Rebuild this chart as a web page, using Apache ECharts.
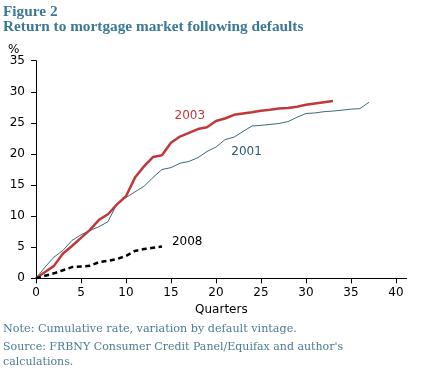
<!DOCTYPE html>
<html>
<head>
<meta charset="utf-8">
<script src="https://cdn.jsdelivr.net/npm/echarts@6/dist/echarts.min.js"></script>
<style>
html,body{margin:0;padding:0;background:#fff;}
#chart{width:426px;height:371px;}
</style>
</head>
<body>
<div id="chart"></div>
<script>
// Data (quarters since default, cumulative %)
const quarters2001 = [0,1,2,3,4,5,6,7,8,9,10,11,12,13,14,15,16,17,18,19,20,21,22,23,24,25,26,27,28,29,30,31,32,33,34,35,36,37];
const values2001 = [0,1.8,3.4,4.5,6.1,7.0,7.7,8.3,9.1,12.0,13.0,13.9,14.8,16.2,17.5,17.8,18.5,18.8,19.4,20.4,21.1,22.3,22.7,23.6,24.5,24.6,24.75,24.9,25.2,25.9,26.5,26.6,26.8,26.9,27.05,27.2,27.3,28.3];
const quarters2003 = [0,1,2,3,4,5,6,7,8,9,10,11,12,13,14,15,16,17,18,19,20,21,22,23,24,25,26,27,28,29,30,31,32,33];
const values2003 = [0,1.0,2.0,4.0,5.2,6.5,7.8,9.4,10.3,11.9,13.2,16.2,18.0,19.5,19.8,21.8,22.8,23.4,24.0,24.3,25.3,25.7,26.3,26.5,26.7,26.95,27.1,27.3,27.4,27.6,27.9,28.1,28.3,28.5];
const quarters2008 = [0,1,2,3,4,5,6,7,8,9,10,11,12,13,14];
const values2008 = [0,0.4,0.8,1.3,1.8,1.9,2.0,2.6,2.8,3.1,3.6,4.4,4.7,4.9,5.1];
const xTicks = [0,5,10,15,20,25,30,35,40];
const seriesNames = ['2001','2003','2008'];
const labelAnchors = {'2001':[23.4,20.3],'2003':[17.1,26.2],'2008':[16.8,5.8]};

const pair = (xs, ys) => xs.map((x,i)=>[x, ys[i]]);
const serifFont = '"Liberation Serif", serif';
const noteFont = '"DejaVu Serif", serif';
const sansFont = '"DejaVu Sans", Verdana, sans-serif';

const chart = echarts.init(document.getElementById('chart'), null, {renderer:'canvas'});
function labelPoint(name, color){
  return {
    symbol:'circle', symbolSize:0, silent:true,
    label:{show:true, position:'inside', formatter:name, color:color, fontFamily:sansFont, fontSize:12},
    data:[{coord:labelAnchors[name]}]
  };
}
function titleItem(text, left, top, font, size, weight, color){
  return {text:text, left:left, top:top, padding:0,
    textStyle:{fontFamily:font, fontWeight:weight, fontSize:size, color:color}};
}
chart.setOption({
  animation:false,
  backgroundColor:'#fff',
  title:[
    titleItem('Figure 2', 3, 5, serifFont, 15.3, 'bold', '#3b7895'),
    titleItem('Return to mortgage market following defaults', 3, 20, serifFont, 15.3, 'bold', '#3b7895'),
    titleItem('%', 8, 44, sansFont, 12, 'normal', '#000'),
    titleItem('Note: Cumulative rate, variation by default vintage.', 3, 324, noteFont, 11.2, 'normal', '#4c7c93'),
    titleItem("Source: FRBNY Consumer Credit Panel/Equifax and author's", 3, 342, noteFont, 11, 'normal', '#4c7c93'),
    titleItem('calculations.', 3, 357, noteFont, 11, 'normal', '#4c7c93')
  ],
  grid:{left:36, right:19.3, top:60.7, bottom:92.7, containLabel:false},
  xAxis:{
    type:'value', min:0, max:41.2,
    name:'Quarters', nameLocation:'middle', nameGap:21,
    nameTextStyle:{fontFamily:sansFont, fontSize:12, color:'#000'},
    axisLine:{show:true, lineStyle:{color:'#000', width:1}},
    axisTick:{show:true, length:5, inside:false, customValues:xTicks, lineStyle:{color:'#000'}},
    axisLabel:{show:true, margin:9, customValues:xTicks, fontFamily:sansFont, fontSize:12, color:'#000'},
    splitLine:{show:false}
  },
  yAxis:{
    type:'value', min:0, max:35, interval:5,
    axisLine:{show:true, lineStyle:{color:'#000', width:1}},
    axisTick:{show:true, length:5, lineStyle:{color:'#000'}},
    axisLabel:{margin:11, fontFamily:sansFont, fontSize:12, color:'#000'},
    splitLine:{show:false}
  },
  series:[
    {name:seriesNames[0], type:'line', data:pair(quarters2001, values2001), symbol:'none', smooth:false,
     lineStyle:{color:'#3c6a7d', width:1}, markPoint:labelPoint('2001','#2f5a6c')},
    {name:seriesNames[1], type:'line', data:pair(quarters2003, values2003), symbol:'none', smooth:false,
     lineStyle:{color:'#c0383a', width:2.5}, markPoint:labelPoint('2003','#c0383a')},
    {name:seriesNames[2], type:'line', data:pair(quarters2008, values2008), symbol:'none', smooth:false,
     lineStyle:{color:'#000', width:2.5, type:[5,3.5]}, markPoint:labelPoint('2008','#000')}
  ]
});
</script>
</body>
</html>
